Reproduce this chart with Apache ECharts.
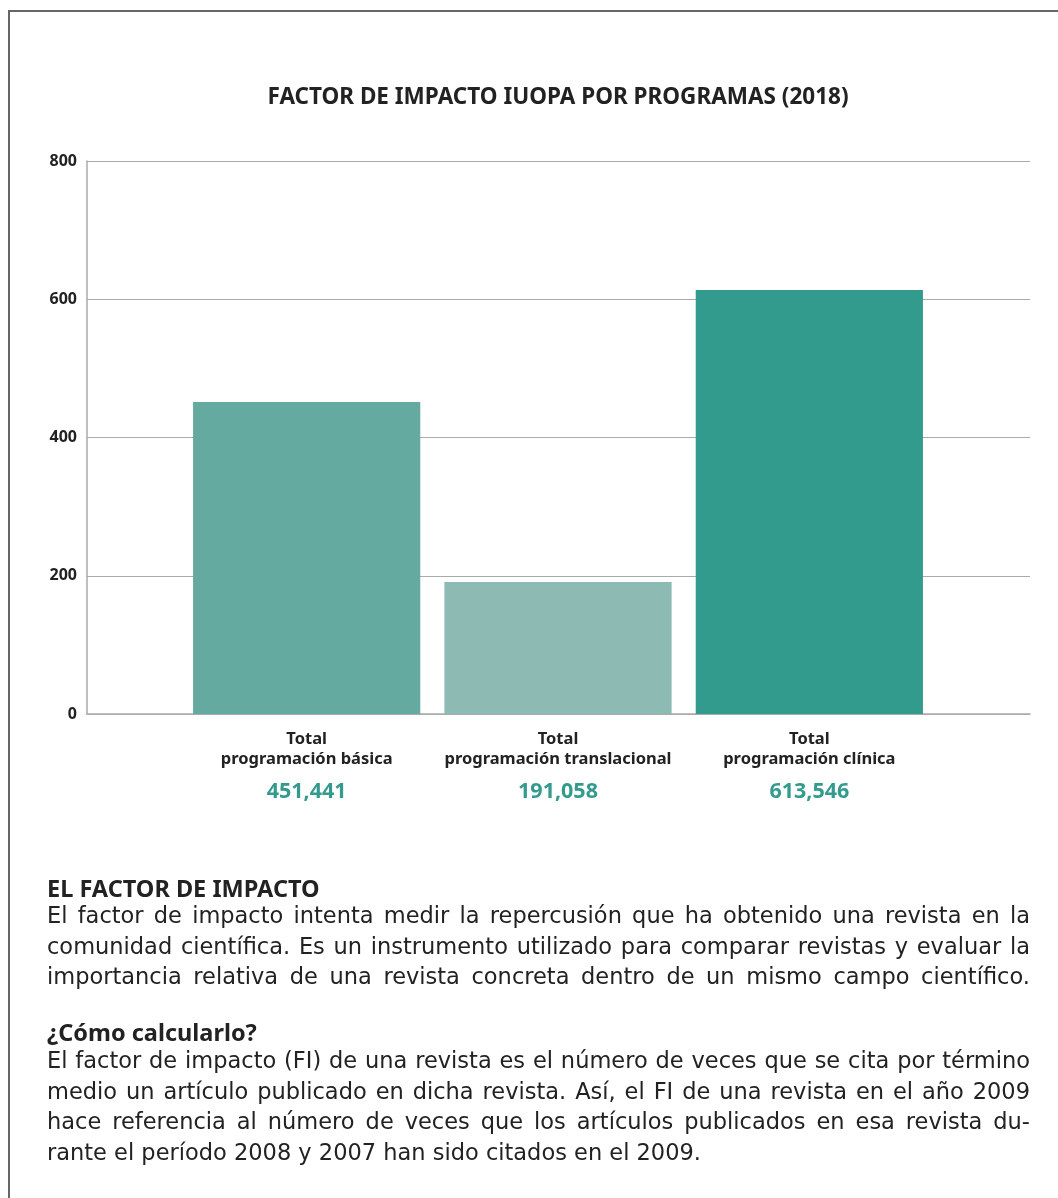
<!DOCTYPE html>
<html>
<head>
  <meta charset="UTF-8">
  <title>factor-impacto</title>
  <style>
    html, body {
      margin: 0;
      padding: 0;
      background: #fff;
    }

    #wrap {
      position: relative;
      width: 1058px;
      height: 1198px;
    }

    #main {
      width: 1058px;
      height: 1198px;
    }

    .para {
      position: absolute;
      left: 47px;
      width: 983px;
      font-family: "DejaVu Sans", sans-serif;
      font-size: 22.5px;
      color: #222;
    }

    .para div {
      height: 30.5px;
      line-height: 30.5px;
      text-align: justify;
      text-align-last: justify;
      white-space: nowrap;
    }

    .para div.last {
      text-align-last: left;
    }
  </style>
  <script src="https://cdn.jsdelivr.net/npm/echarts@6/dist/echarts.min.js"></script>
</head>

<body>
<div id="wrap">
  <div id="main"></div>
  <div class="para" id="p1" style="top: 900px;"></div>
  <div class="para" id="p2" style="top: 1045px;"></div>
</div>

<script type="text/javascript">
  // datos del gráfico
  const categories = ['Total\nprogramación básica', 'Total\nprogramación translacional', 'Total\nprogramación clínica'];
  const values = [451.441, 191.058, 613.546];
  const barColors = ['#64aaa0', '#8dbab3', '#329b8d'];
  const yTicks = [0, 200, 400, 600, 800];

  const titleText = 'FACTOR DE IMPACTO IUOPA POR PROGRAMAS (2018)';
  const heading1 = 'EL FACTOR DE IMPACTO';
  const body1 = [
    'El factor de impacto intenta medir la repercusión que ha obtenido una revista en la',
    'comunidad científica. Es un instrumento utilizado para comparar revistas y evaluar la',
    'importancia relativa de una revista concreta dentro de un mismo campo científico.'
  ];
  const heading2 = '¿Cómo calcularlo?';
  const body2 = [
    'El factor de impacto (FI) de una revista es el número de veces que se cita por término',
    'medio un artículo publicado en dicha revista. Así, el FI de una revista en el año 2009',
    'hace referencia al número de veces que los artículos publicados en esa revista du-',
    'rante el período 2008 y 2007 han sido citados en el 2009.'
  ];

  const font = '"Noto Sans", sans-serif';
  const chart = echarts.init(document.getElementById('main'));

  function fmt(v) {
    return v.toFixed(3).replace('.', ',');
  }

  // párrafos justificados, una línea por div
  function fillPara(id, lines, lastIsShort) {
    const el = document.getElementById(id);
    lines.forEach(function (t, i) {
      const d = document.createElement('div');
      d.textContent = t;
      if (lastIsShort && i === lines.length - 1) d.className = 'last';
      el.appendChild(d);
    });
  }
  fillPara('p1', body1, false);
  fillPara('p2', body2, true);

  const option = {
    animation: false,
    backgroundColor: '#fff',
    textStyle: { fontFamily: font },
    grid: [
      { left: 87, right: 28, top: 161, bottom: 484 }, // rejilla completa
      { left: 181, right: 123, top: 161, bottom: 484 } // zona de barras
    ],
    xAxis: [{
      gridIndex: 0,
      type: 'category',
      data: [''],
      axisLine: { lineStyle: { color: '#aaa', width: 1.5 } },
      axisTick: { show: false },
      axisLabel: { show: false }
    }, {
      gridIndex: 1,
      type: 'category',
      data: categories,
      axisLine: { show: false },
      axisTick: { show: false },
      axisLabel: {
        margin: 15,
        interval: 0,
        formatter: function (val, idx) {
          const parts = val.split('\n');
          return '{a|' + parts[0] + '}\n{a|' + parts[1] + '}\n{b|' + fmt(values[idx]) + '}';
        },
        rich: {
          a: { fontFamily: font, fontSize: 16.5, fontWeight: 'bold', color: '#222', lineHeight: 20 },
          b: { fontFamily: font, fontSize: 21.5, fontWeight: 'bold', color: '#339b8d', lineHeight: 46 }
        }
      }
    }],
    yAxis: [{
      gridIndex: 0,
      type: 'value',
      min: yTicks[0],
      max: yTicks[yTicks.length - 1],
      interval: 200,
      axisLine: { show: true, lineStyle: { color: '#aaa', width: 1.5 } },
      axisTick: { show: false },
      splitLine: { lineStyle: { color: '#aaa', width: 1.2 } },
      axisLabel: {
        margin: 10,
        fontFamily: font,
        fontSize: 16,
        fontWeight: 'bold',
        color: '#222',
        padding: [0, 0, 8, 0]
      }
    }, {
      gridIndex: 1,
      type: 'value',
      min: yTicks[0],
      max: yTicks[yTicks.length - 1],
      show: false
    }],
    series: [{
      type: 'bar',
      xAxisIndex: 1,
      yAxisIndex: 1,
      barCategoryGap: '9.6%',
      data: values.map(function (v, i) {
        return { value: v, itemStyle: { color: barColors[i] } };
      })
    }],
    graphic: [{
      // marco
      type: 'polyline',
      shape: { points: [[9, 1210], [9, 11], [1070, 11]] },
      style: { stroke: '#666', lineWidth: 2, fill: null }
    }, {
      type: 'text',
      x: 558,
      y: 98,
      style: {
        text: titleText,
        font: 'bold 22.5px ' + font,
        fill: '#222',
        align: 'center',
        verticalAlign: 'middle'
      }
    }, {
      type: 'text',
      x: 47,
      y: 890,
      style: {
        text: heading1,
        font: 'bold 23.5px ' + font,
        fill: '#222',
        verticalAlign: 'middle'
      }
    }, {
      type: 'text',
      x: 47,
      y: 1034,
      style: {
        text: heading2,
        font: 'bold 23.5px ' + font,
        fill: '#222',
        verticalAlign: 'middle'
      }
    }]
  };

  chart.setOption(option);
</script>
</body>
</html>
